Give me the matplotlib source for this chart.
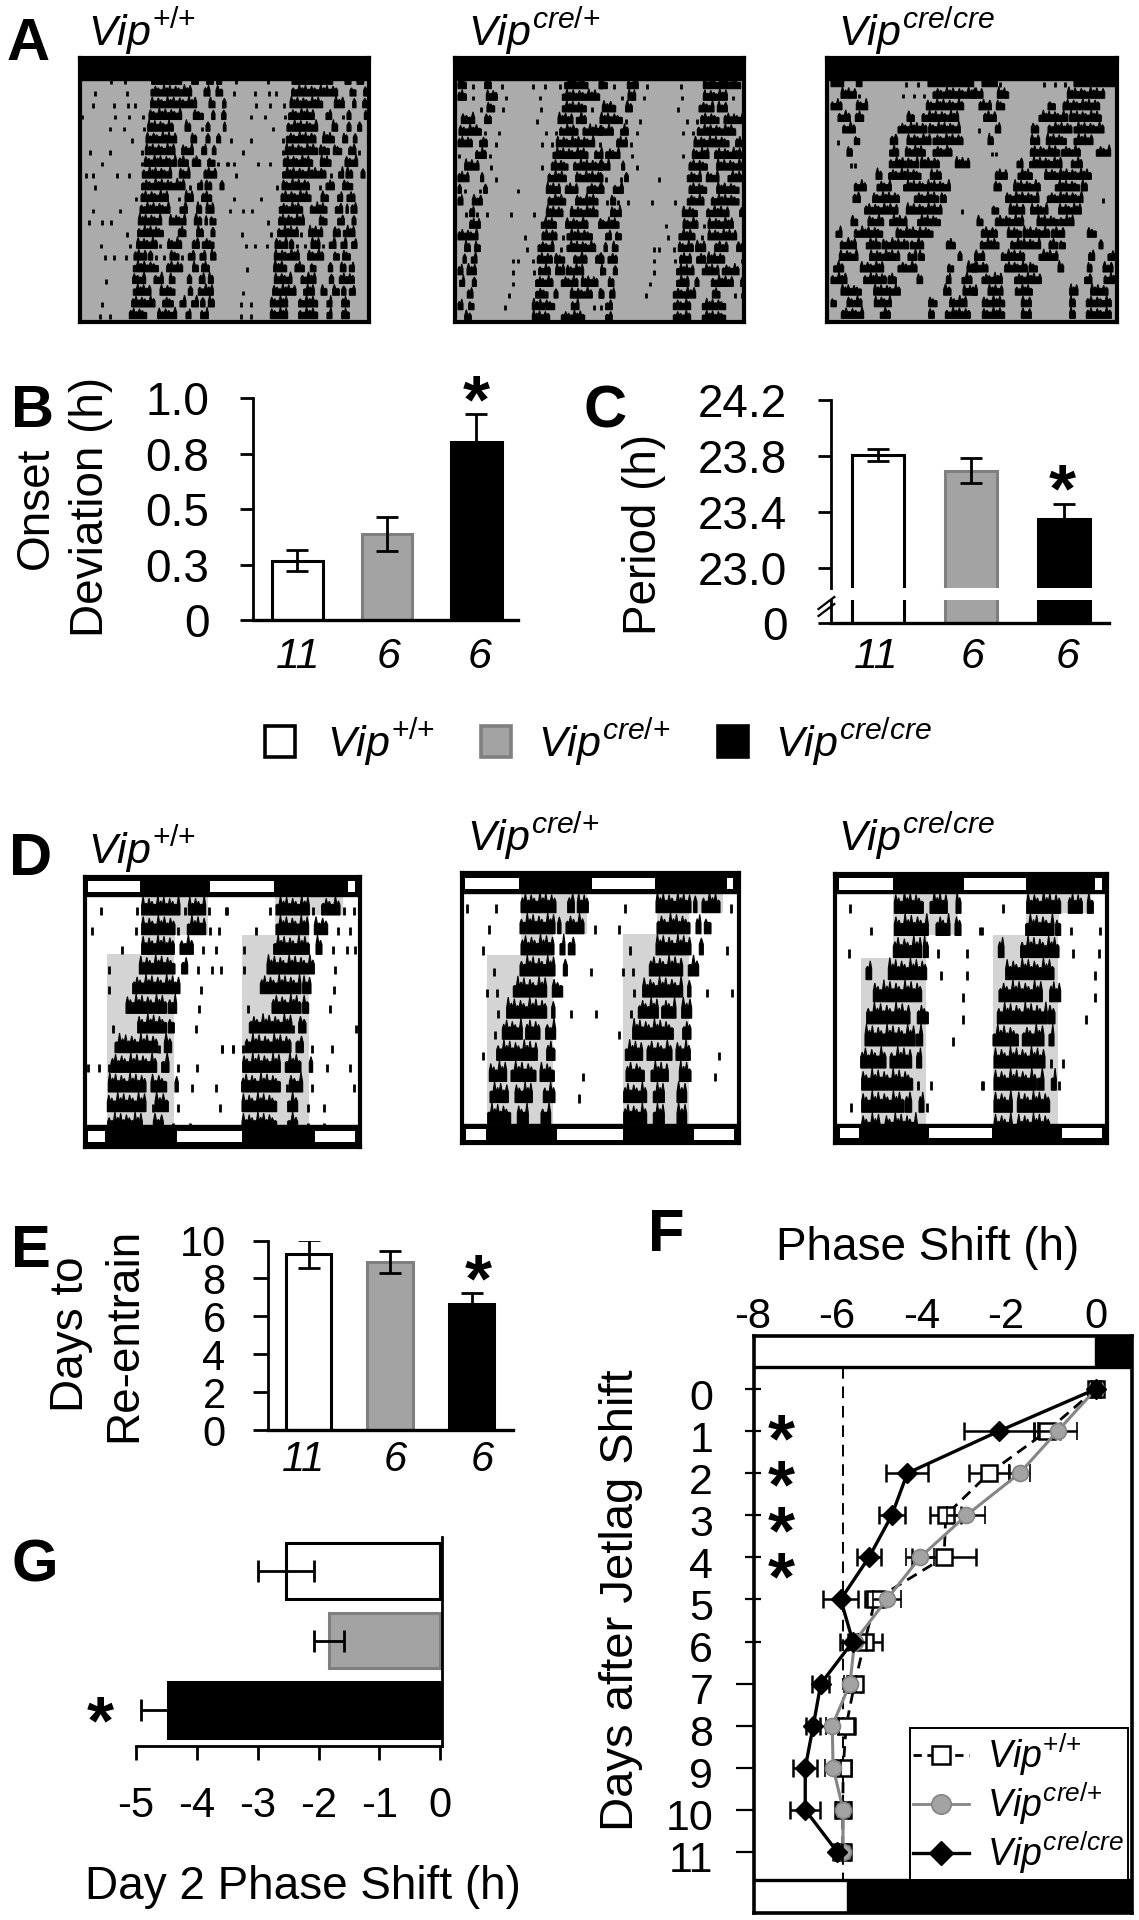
import numpy as np
import matplotlib
matplotlib.use('Agg')
import matplotlib.pyplot as plt
from matplotlib.lines import Line2D
from matplotlib.patches import Rectangle
from matplotlib.transforms import ScaledTranslation

# =============================================================================
# data
# actogram bouts are in read-off clock units (1 day is about 400 units)
# =============================================================================
genotypes = ['{+}/{+}', 'cre/{+}', 'cre/cre']
n_labels = ['11', '6', '6']

onset_dev = [0.267, 0.388, 0.804]
onset_err = [0.047, 0.077, 0.122]
onset_ticks = [0, 0.25, 0.5, 0.75, 1.0]
onset_ticklabels = ['0', '0.3', '0.5', '0.8', '1.0']

period = [23.81, 23.695, 23.35]
period_err = [0.043, 0.09, 0.105]
period_ticks = [23.0, 23.4, 23.8, 24.2]

reentrain = [9.29, 8.87, 6.66]
reentrain_err = [0.72, 0.6, 0.55]
reentrain_ticks = [0, 2, 4, 6, 8, 10]

day2_shift = [-2.53, -1.83, -4.47]
day2_err = [0.46, 0.25, 0.45]
day2_ticks = [-5, -4, -3, -2, -1, 0]

days = list(range(12))
wt_shift = [0, -1.16, -2.53, -3.56, -3.6, -5.23, -5.48, -5.72, -5.92, -5.99, -6.0, -6.0]
wt_err = [0.12, 0.3, 0.48, 0.37, 0.75, 0.24, 0.4, 0.15, 0.2, 0.18, 0.15, 0.15]
het_shift = [0, -0.91, -1.81, -3.07, -4.17, -4.96, -5.72, -5.83, -6.25, -6.23, -5.99, -6.0]
het_err = [0.1, 0.46, 0.25, 0.45, 0.33, 0.33, 0.1, 0.15, 0.15, 0.18, 0.18, 0.1]
ko_shift = [0, -2.3, -4.47, -4.84, -5.38, -6.05, -5.76, -6.52, -6.7, -6.89, -6.89, -6.13]
ko_err = [0.1, 0.83, 0.5, 0.31, 0.29, 0.41, 0.3, 0.2, 0.17, 0.28, 0.35, 0.1]

a1_bouts = [[(215,305),(335,355),(380,400),(410,425)], [(213,335),(372,390),(408,428)],
            [(212,350),(387,405),(428,438)], [(207,305),(340,370),(395,405),(425,438)],
            [(203,280),(315,332),(378,390),(430,438)], [(198,290),(333,350),(378,390),(410,422)],
            [(196,285),(305,340),(365,380),(397,408)], [(193,290),(295,325),(337,362),(383,405)],
            [(187,275),(298,330),(372,410)], [(185,315),(353,368),(375,395),(420,432)],
            [(183,265),(315,340),(365,395)], [(180,270),(300,322),(350,365),(378,402)],
            [(175,245),(268,318),(343,365),(375,382),(390,408)], [(173,250),(295,318),(350,370),(393,405)],
            [(170,232),(263,305),(337,358),(367,402)], [(162,200),(205,218),(270,297),(325,345),(360,378),(392,408)],
            [(160,235),(260,308),(338,355),(365,388)], [(158,197),(222,250),(268,285),(322,335),(358,375),(385,400)],
            [(160,213),(240,285),(325,338),(355,400)], [(155,225),(248,280),(300,318),(335,355),(362,375),(385,403)],
            [(148,200),(233,290),(318,333),(362,385)]]
a1_dots = [[92,135], [45,140], [40,103,145,165], [5,105,148,190], [90,133,193,365], [155], [30,90,185],
           [65,185,415,445], [18,38,112,148], [45,330], [167,298], [38,120], [27,65,93], [140], [62,150,240],
           [75,103,137,228,253,305], [], [78], [], [65], [60,90]]

a2_bouts = [[(15,40),(95,115),(335,405),(440,450)], [(15,40),(100,133),(328,440)], [(102,125),(328,400)],
            [(25,65),(95,115),(315,360),(370,400)], [(18,85),(320,375),(390,450)], [(15,58),(80,103),(310,425)],
            [(68,100),(300,405),(425,450)], [(35,78),(295,345),(362,450)], [(15,48),(83,92),(285,340),(368,450)],
            [(15,25),(92,103),(280,322),(337,375),(402,450)], [(15,30),(58,88),(285,338),(368,435)],
            [(50,65),(280,330),(352,435)], [(50,82),(265,310),(338,405),(437,450)], [(15,75),(267,312),(342,418)],
            [(35,52),(65,82),(255,303),(342,428)], [(30,40),(55,72),(253,298),(305,335),(362,402),(428,450)],
            [(15,30),(42,70),(257,292),(308,335),(340,392)], [(20,35),(58,70),(248,300),(325,375),(385,435)],
            [(43,60),(248,285),(303,315),(352,418),(440,450)], [(15,30),(47,63),(238,305),(355,378)],
            [(35,55),(238,290),(325,395)]]
a2_dots = [[60,148,240,275,320], [60,160,260], [83,150,265,418], [253], [97,138,280,310], [130,268,297], [18,110],
           [113,268], [128], [35,80,195], [], [40,72,102,173,243], [], [215,330], [222,325], [180,195,240],
           [180,243,443], [180], [168], [155,422,443], []]

a3_bouts = [[(12,50),(88,105),(303,440)], [(42,88),(318,448)], [(12,45),(88,122),(298,410)],
            [(33,70),(85,110),(240,262),(285,395)], [(47,85),(213,300),(305,400)], [(82,98),(190,212),(240,312),(318,408)],
            [(60,76),(188,215),(235,295),(318,375)], [(187,275),(280,337),(385,428)], [(147,165),(185,282),(310,343)],
            [(82,118),(150,193),(230,370)], [(78,100),(137,217),(262,335),(340,358)], [(113,213),(238,345)],
            [(72,92),(123,170),(188,240),(272,340)], [(27,45),(82,167),(207,272),(275,318)],
            [(40,88),(118,160),(165,245),(250,290),(358,385)], [(37,93),(128,218),(243,270),(275,292),(393,405),(443,450)],
            [(20,50),(100,170),(213,270),(362,380),(420,450)], [(12,60),(110,178),(183,208),(270,287),(358,372),(405,435)],
            [(42,103),(140,220),(350,372),(408,450)], [(12,28),(60,105),(142,193),(305,330),(368,420)],
            [(43,110),(160,190),(305,322),(355,430)]]
a3_dots = [[237,272], [95,228,262,290], [], [], [], [33], [], [72,85], [], [], [], [405], [], [], [], [], [], [], [], [], []]

d1_bouts = [[(170,285),(310,362)], [(170,270),(307,362)], [(170,268),(285,325)], [(163,270),(290,308)], [(143,285)],
            [(123,245),(250,275)], [(158,245),(250,268)], [(90,218),(238,260)], [(78,215),(230,252)],
            [(70,183),(198,245),(270,280)], [(67,183),(210,250)], [(68,172),(205,235)]]
d1_dots = [[47,157,300,373,425], [20,153,280,375,403], [110,355,392], [73,340,382,407], [73,347], [343], [85,333],
           [222,410,445], [8,42,72,278,337], [322,392], [203,278,405], [265,315]]
d1_shade = [(168,370), (168,370), (168,270)] + [(67,268)] * 9

d2_bouts = [[(183,288),(323,343),(352,385)], [(180,285),(293,303),(318,372)], [(183,282),(300,315),(325,345)],
            [(180,285),(310,322)], [(160,260),(277,308)], [(140,260),(275,285)], [(127,187),(197,240),(257,287)],
            [(110,232),(260,285)], [(88,140),(153,228),(240,283)], [(90,145),(165,217),(250,285)],
            [(83,152),(172,205),(243,272)]]
d2_dots = [[22,107], [87,405], [68], [103,392], [80,110], [113,332,408], [105], [68], [370], [357], []]
d2_shade = [(183,380), (183,380), (183,280)] + [(80,280)] * 8

d3_bouts = [[(193,280),(300,352),(378,393)], [(193,295),(318,360),(375,393)], [(190,275),(280,295)],
            [(108,125),(175,290)], [(130,275)], [(110,240),(262,295)], [(105,255),(258,278)],
            [(92,168),(180,245),(260,275)], [(95,248)], [(95,222),(225,245),(267,282)], [(95,150),(165,262)]]
d3_dots = [[60], [122,450], [58,325,412], [332,410], [398], [398], [370], [], [265,303,455], [62,290], []]
d3_shade = [(190,385), (190,385), (190,290)] + [(92,288)] * 8

# top and bottom light/dark bars: white stretches of each D actogram
d1_top_white = [(9,165), (375,567), (789,810)]
d1_bot_white = [(9,60), (276,470), (690,810)]
d2_top_white = [(16,178), (396,586), (800,820)]
d2_bot_white = [(18,78), (292,488), (703,822)]
d3_top_white = [(27,188), (403,587), (795,815)]
d3_bot_white = [(30,88), (297,485), (695,817)]

# =============================================================================
# helpers, all placing is done in pixels of the 1139x1920 picture
# =============================================================================
W, H = 1139, 1920
GRAY = '#a3a3a3'
GRAY_EDGE = '#7f7f7f'
BAR_COLORS = ['white', GRAY, 'black']
BAR_EDGES = ['black', GRAY_EDGE, 'black']
TEETH = (1.0, 0.72, 0.92, 0.6, 0.85, 0.7, 0.55)

plt.rcParams['font.family'] = ['Liberation Sans', 'DejaVu Sans']
plt.rcParams['mathtext.fontset'] = 'custom'
plt.rcParams['mathtext.it'] = 'Liberation Sans:italic'
plt.rcParams['mathtext.rm'] = 'Liberation Sans'
plt.rcParams['mathtext.default'] = 'it'

fig = plt.figure(figsize=(W / 100, H / 100), dpi=100)


def pxax(x0, y0, x1, y1):
    ax = fig.add_axes([x0 / W, 1 - y1 / H, (x1 - x0) / W, (y1 - y0) / H])
    ax.patch.set_alpha(0)
    return ax


def txt(x, y, s, **kw):
    kw.setdefault('ha', 'center')
    kw.setdefault('va', 'center')
    return fig.text(x / W, 1 - y / H, s, **kw)


def vip(g):
    return r'$\mathit{Vip}^{%s}$' % g


def star(x, y, size=50):
    # the asterisk glyph sits high in its line
    txt(x, y + size * 0.21 * 100 / 72, '*', fontsize=size, fontweight='bold')


def bout(ax, a, b, row, h=1.0, step=9):
    n = max(1, int(round((b - a) / step)))
    xs = np.linspace(a, b, n + 1)
    px = [a]
    py = [row]
    for i in range(n):
        tip = TEETH[(i + int(a)) % len(TEETH)]
        if n == 1:
            tip = 0.8
        px += [xs[i], (xs[i] + xs[i + 1]) / 2, xs[i + 1]]
        py += [row - h * 0.5, row - h * tip, row - h * 0.5]
    px.append(b)
    py.append(row)
    ax.fill(px, py, color='black', lw=0.8, zorder=2)


def activity(ax, bouts, dots, period_len):
    for i in range(len(bouts)):
        nxt = min(i + 1, len(bouts) - 1)
        for a, b in bouts[i]:
            bout(ax, a, b, i)
        for a, b in bouts[nxt]:
            bout(ax, a + period_len, b + period_len, i)
        for d in dots[i]:
            ax.vlines(d, i - 0.4, i, color='black', lw=2, zorder=2)
        for d in dots[nxt]:
            ax.vlines(d + period_len, i - 0.4, i, color='black', lw=2, zorder=2)


def frame(ax, lw=3):
    ax.set_xticks([])
    ax.set_yticks([])
    for s in ax.spines.values():
        s.set_linewidth(lw)
        s.set_color('black')


def actogram_a(x0, x1, crop_x, bl0, spacing, bouts, dots):
    y_top, y_bar, y_bot, crop_y = 58, 80, 322, 76
    ax = pxax(x0, y_top, x1, y_bot)
    ax.patch.set_alpha(1)
    ax.set_facecolor('#ababab')
    y_of = lambda p: (p - (crop_y + bl0 / 3)) / (spacing / 3)
    ax.set_xlim(3 * (x0 - crop_x), 3 * (x1 - crop_x))
    ax.set_ylim(y_of(y_bot), y_of(y_top))
    activity(ax, bouts, dots, 423)
    ax.axhspan(y_of(y_top), y_of(y_bar), color='black', zorder=3)
    frame(ax)


def actogram_d(x0, x1, y_top, y_bot, bands, crop_x, bl0, spacing, bouts, dots, shade, period_len, top_w, bot_w):
    ax = pxax(x0, y_top, x1, y_bot)
    y_of = lambda p: (p - (870 + bl0 / 3)) / (spacing / 3)
    ax.set_xlim(3 * (x0 - crop_x), 3 * (x1 - crop_x))
    ax.set_ylim(y_of(y_bot), y_of(y_top))
    for i in range(len(shade)):
        nxt = min(i + 1, len(shade) - 1)
        a, b = shade[i]
        ax.add_patch(Rectangle((a, i - 1), b - a, 1, color='#d4d4d4', lw=0, zorder=1))
        a, b = shade[nxt]
        ax.add_patch(Rectangle((a + period_len, i - 1), b - a, 1, color='#d4d4d4', lw=0, zorder=1))
    activity(ax, bouts, dots, period_len)
    ty0, ty1, tb, bb, by0, by1 = bands
    ax.axhspan(y_of(y_top), y_of(tb), color='black', zorder=3)
    ax.axhspan(y_of(bb), y_of(y_bot), color='black', zorder=3)
    for a, b in top_w:
        ax.add_patch(Rectangle((a, y_of(ty0)), b - a, y_of(ty1) - y_of(ty0), color='white', lw=0, zorder=4))
    for a, b in bot_w:
        ax.add_patch(Rectangle((a, y_of(by0)), b - a, y_of(by1) - y_of(by0), color='white', lw=0, zorder=4))
    frame(ax)


def bars(ax, vals, errs, width=0.56):
    for i in range(3):
        ax.bar(i, vals[i], width, color=BAR_COLORS[i], edgecolor=BAR_EDGES[i], lw=2.2, zorder=2)
        if errs is not None:
            ax.errorbar(i, vals[i], yerr=errs[i], color='black', capsize=8, capthick=2, elinewidth=2, zorder=3)


def axis_style(ax, ticklen=9.5):
    ax.spines['top'].set_visible(False)
    ax.spines['right'].set_visible(False)
    ax.spines['left'].set_linewidth(2)
    ax.spines['bottom'].set_linewidth(2.4)
    ax.tick_params(axis='y', length=ticklen, width=2)
    ax.tick_params(axis='x', length=0)


# =============================================================================
# A actograms
# =============================================================================
actogram_a(80, 369, 80, 25, 35.15, a1_bouts, a1_dots)
actogram_a(455, 744, 453, 38, 34.9, a2_bouts, a2_dots)
actogram_a(827, 1117, 827, 32, 34.75, a3_bouts, a3_dots)
for x, g in zip([88, 468, 838], genotypes):
    txt(x, 31, vip(g), fontsize=31, ha='left')

# =============================================================================
# B onset deviation
# =============================================================================
ax = pxax(253, 398, 518, 620)
bars(ax, onset_dev, onset_err)
ax.set_ylim(0, 1)
ax.set_xlim(-0.497, 2.464)
ax.set_yticks(onset_ticks)
ax.set_yticklabels(onset_ticklabels, fontsize=33)
ax.set_xticks([])
axis_style(ax)
ax.tick_params(axis='y', pad=22)
for x, s in zip([298, 389, 480], n_labels):
    txt(x, 657, s, fontsize=31, fontstyle='italic')
txt(36, 508, 'Onset', fontsize=33, rotation=90)
txt(91, 507, 'Deviation (h)', fontsize=33, rotation=90)
star(476, 390)

# =============================================================================
# C period with broken axis
# =============================================================================
ax = pxax(831, 400, 1109, 588)
bars(ax, period, period_err)
ax.set_ylim(22.857, 24.2)
ax.set_xlim(-0.505, 2.484)
ax.set_yticks(period_ticks)
ax.set_yticklabels(['%.1f' % t for t in period_ticks], fontsize=33)
ax.set_xticks([])
axis_style(ax)
ax.spines['bottom'].set_visible(False)
ax.tick_params(axis='y', pad=22)

ax = pxax(831, 600, 1109, 623)
bars(ax, period, None)
ax.set_ylim(0, 1)
ax.set_xlim(-0.505, 2.484)
ax.set_yticks([0])
ax.set_yticklabels(['0'], fontsize=33)
ax.set_xticks([])
axis_style(ax)
ax.tick_params(axis='y', pad=22)
for dy in [-10, -3]:
    ax.plot([-0.045, 0.012], [1 + (dy - 6) / 23, 1 + (dy + 6) / 23], transform=ax.transAxes,
            color='black', lw=1.6, clip_on=False)
for x, s in zip([876, 973, 1068], n_labels):
    txt(x, 657, s, fontsize=31, fontstyle='italic')
txt(644, 534, 'Period (h)', fontsize=33, rotation=90)
star(1062, 479)

# =============================================================================
# legend between the panels
# =============================================================================
for x, tx, col, ec, g in zip([265, 481, 718], [327, 538, 775], BAR_COLORS, BAR_EDGES, genotypes):
    fig.add_artist(Rectangle((x / W, 1 - 757 / H), 30 / W, 31 / H, transform=fig.transFigure,
                             facecolor=col, edgecolor=ec, lw=2.6))
    txt(tx, 742, vip(g), fontsize=31, ha='left')

# =============================================================================
# D actograms
# =============================================================================
actogram_d(85, 360, 877, 1147, (881, 892, 896, 1125, 1131, 1142), 85, 135, 59, d1_bouts, d1_dots, d1_shade, 403,
           d1_top_white, d1_bot_white)
actogram_d(462, 739, 873, 1143, (878, 889, 893, 1124, 1129, 1140), 460, 128, 63.3, d2_bouts, d2_dots, d2_shade, 408,
           d2_top_white, d2_bot_white)
actogram_d(835, 1107, 874, 1143, (878, 890, 893, 1124, 1128, 1138), 830, 130, 66.3, d3_bouts, d3_dots, d3_shade, 397,
           d3_top_white, d3_bot_white)
for x, y, g in zip([88, 467, 838], [849, 836, 836], genotypes):
    txt(x, y, vip(g), fontsize=31, ha='left')

# =============================================================================
# E days to re-entrain
# =============================================================================
ax = pxax(268, 1240.5, 513, 1430)
bars(ax, reentrain, reentrain_err, width=0.555)
ax.set_ylim(0, 10)
ax.set_xlim((268 - 308.5) / 81.5, (513 - 308.5) / 81.5)
ax.set_yticks(reentrain_ticks)
ax.set_yticklabels([str(t) for t in reentrain_ticks], fontsize=30)
ax.set_xticks([])
axis_style(ax, ticklen=10.5)
ax.tick_params(axis='y', pad=20)
for x, s in zip([303, 395, 482], n_labels):
    txt(x, 1460, s, fontsize=30, fontstyle='italic')
txt(71, 1334, 'Days to', fontsize=33, rotation=90)
txt(124, 1335, 'Re-entrain', fontsize=33, rotation=90)
star(478, 1269)

# =============================================================================
# G day 2 phase shift
# =============================================================================
ax = pxax(136, 1537, 441.5, 1746)
for i in range(3):
    ax.barh(i, day2_shift[i], 0.8, color=BAR_COLORS[i], edgecolor=BAR_EDGES[i], lw=2.2, zorder=2)
    ax.errorbar(day2_shift[i], i, xerr=day2_err[i], color='black', capsize=8, capthick=2, elinewidth=2, zorder=3)
ax.set_xlim(-5, 0.02)
ax.set_ylim((1746 - 1571) / 69.5, (1537 - 1571) / 69.5)
ax.set_xticks(day2_ticks)
ax.set_xticklabels([str(t) if t == 0 else '-%d' % abs(t) for t in day2_ticks], fontsize=30)
ax.set_yticks([])
ax.spines['top'].set_visible(False)
ax.spines['left'].set_visible(False)
ax.spines['right'].set_linewidth(2)
ax.spines['bottom'].set_linewidth(2)
ax.tick_params(axis='x', length=10, width=2, pad=19)
txt(303, 1887, 'Day 2 Phase Shift (h)', fontsize=33)
star(100, 1711)

# =============================================================================
# F phase shift over days
# =============================================================================
ax = pxax(753.5, 1336, 1132, 1913)
xscale = 42.2
yscale = 42.09
xlo, xhi = (753.5 - 1096) / xscale, (1132 - 1096) / xscale
ytop, ybot = (1336 - 1389) / yscale, (1913 - 1389) / yscale
ax.set_xlim(xlo, xhi)
ax.set_ylim(ybot, ytop)
band_top = (1367 - 1389) / yscale
band_bot = (1880 - 1389) / yscale
ax.add_patch(Rectangle((-0.02, ytop), xhi + 0.02, band_top - ytop, color='black', zorder=1))
ax.add_patch(Rectangle(((846.5 - 1096) / xscale, band_bot), xhi - (846.5 - 1096) / xscale, ybot - band_bot,
                       color='black', zorder=1))
ax.axhline(band_top, color='black', lw=2.4, zorder=1)
ax.axhline(band_bot, color='black', lw=2.4, zorder=1)
ax.vlines(-6, band_top, band_bot, color='black', lw=1.4, linestyles=(0, (6, 4)), zorder=1)

ax.errorbar(wt_shift, days, xerr=wt_err, color='black', lw=2, ls=(0, (4, 2.5)), marker='s', ms=11, mfc='white', mec='black',
            mew=1.8, capsize=6.5, capthick=1.8, elinewidth=1.8, zorder=3)
ax.errorbar(het_shift, days, xerr=het_err, color='#858585', lw=2.2, marker='o', ms=11.5, mfc='#a3a3a3', mec='#858585',
            mew=1.2, ecolor='black', capsize=6.5, capthick=1.8, elinewidth=1.8, zorder=4)
ax.errorbar(ko_shift, days, xerr=ko_err, color='black', lw=2.4, marker='D', ms=10, mfc='black', mec='black',
            capsize=6.5, capthick=1.8, elinewidth=1.8, zorder=5)

ax.xaxis.tick_top()
ax.set_xticks([-8, -6, -4, -2, 0])
ax.set_xticklabels(['-8', '-6', '-4', '-2', '0'], fontsize=30)
ax.tick_params(axis='x', length=0, pad=-1)
for t, lab in zip(ax.get_xticklabels(), [-8, -6, -4, -2, 0]):
    if lab < 0:
        t.set_transform(t.get_transform() + ScaledTranslation(-6 / 100, 0, fig.dpi_scale_trans))
ax.set_yticks(days)
ax.set_yticklabels([str(d) for d in days], fontsize=31)
ax.tick_params(axis='y', length=0, pad=29)
for t in ax.get_yticklabels():
    t.set_transform(t.get_transform() + ScaledTranslation(0, -5 / 100, fig.dpi_scale_trans))
ax.hlines(days[:7], (745 - 1096) / xscale, (761 - 1096) / xscale, color='black', lw=1.6, clip_on=False, zorder=6)
ax.hlines(days[7:], (736 - 1096) / xscale, (753 - 1096) / xscale, color='black', lw=1.6, clip_on=False, zorder=6)
for s in ax.spines.values():
    s.set_linewidth(2.6)

handles = [Line2D([], [], color='black', lw=2, ls=(0, (3, 2)), marker='s', ms=13, mfc='white', mec='black', mew=1.8),
           Line2D([], [], color='#858585', lw=2, marker='o', ms=14, mfc='#a3a3a3', mec='#858585', mew=1.2),
           Line2D([], [], color='black', lw=2.4, marker='D', ms=12, mfc='black', mec='black')]
leg = ax.legend(handles, [vip(g) for g in genotypes], loc='lower right',
                bbox_to_anchor=(0.99, (1913 - 1880) / (1913 - 1336)),
                fontsize=27, fancybox=False, framealpha=1, edgecolor='black', handlelength=1.47, labelspacing=0.08,
                borderpad=0.1, handletextpad=0.5, borderaxespad=0)
leg.get_frame().set_linewidth(1.4)
leg.set_zorder(2)

txt(928, 1248, 'Phase Shift (h)', fontsize=33)
txt(621, 1600, 'Days after Jetlag Shift', fontsize=34, rotation=90)
# the four day stars as one text, lines closer than the font height
txt(781, 1500.5 + 12, '*\n*\n*\n*', fontsize=50, fontweight='bold', linespacing=0.64)

# =============================================================================
# panel letters
# =============================================================================
for x, y, s in [(7, 60, 'A'), (11, 427, 'B'), (584, 427, 'C'), (9, 875, 'D'), (11, 1267, 'E'), (648, 1251, 'F'),
                (11, 1582, 'G')]:
    txt(x, y, s, fontsize=43, fontweight='bold', ha='left', va='baseline')

fig.savefig('out.png', dpi=100)
